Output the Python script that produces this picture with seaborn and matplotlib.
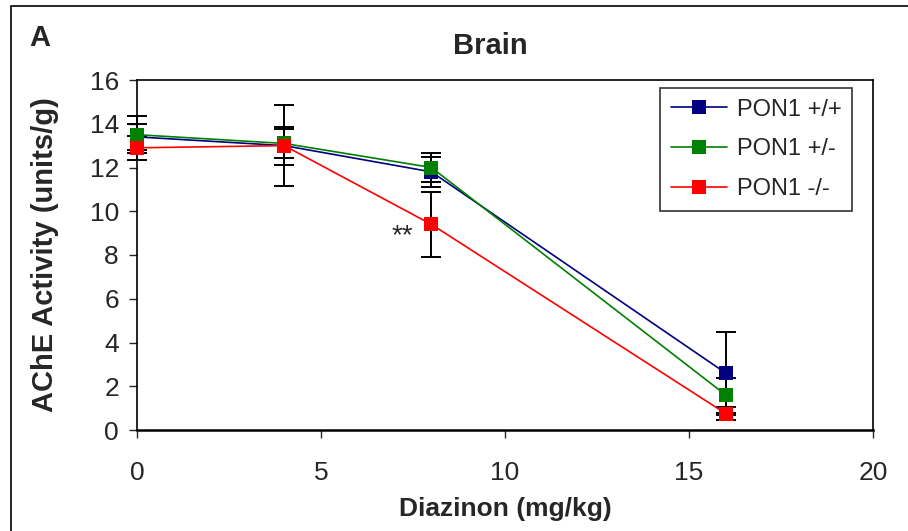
import numpy as np
import pandas as pd
import matplotlib
matplotlib.use('Agg')
import matplotlib.pyplot as plt
import matplotlib.patches as mpatches
from matplotlib.lines import Line2D
import seaborn as sns

sns.set_style('ticks')
plt.rcParams['font.family'] = ['Liberation Sans', 'DejaVu Sans']

# data
dose = [0, 4, 8, 16]
groups = ['PON1 +/+', 'PON1 +/-', 'PON1 -/-']
wt = [13.4, 13.0, 11.8, 2.6]
wt_err = [0.6, 0.87, 0.7, 1.9]
het = [13.5, 13.1, 12.0, 1.6]
het_err = [0.85, 0.65, 0.65, 0.8]
ko = [12.9, 13.0, 9.4, 0.75]
ko_err = [0.55, 1.85, 1.5, 0.3]
colors = ['#000080', '#008000', '#FF0000']

df = pd.DataFrame({
    'dose': dose * 3,
    'ache': wt + het + ko,
    'err': wt_err + het_err + ko_err,
    'group': np.repeat(groups, len(dose)),
})

fig = plt.figure(figsize=(9.08, 5.31), dpi=100)
ax = fig.add_axes([137 / 908, 1 - 430 / 531, 736 / 908, 350 / 531])

# error bars first so the markers sit on top
for g in groups:
    sub = df[df['group'] == g]
    eb = ax.errorbar(sub['dose'], sub['ache'], yerr=sub['err'], fmt='none',
                     ecolor='black', elinewidth=1.4, capsize=7, capthick=1.4, zorder=2)
    for art in eb.lines[1] + eb.lines[2]:
        art.set_clip_on(False)

sns.lineplot(data=df, x='dose', y='ache', hue='group', palette=colors,
             marker='s', markersize=9.5, markeredgewidth=0, linewidth=1.2,
             errorbar=None, legend=False, ax=ax, zorder=3)
for ln in ax.lines:
    ln.set_clip_on(False)

ax.set_xlim(0, 20)
ax.set_ylim(0, 16)
ax.set_xticks([0, 5, 10, 15, 20])
ax.set_yticks(range(0, 17, 2))
ax.tick_params(axis='y', labelsize=19, length=6, width=1, pad=7, direction='out')
ax.tick_params(axis='x', labelsize=19, length=6, width=1, pad=16, direction='out')
for s in ax.spines.values():
    s.set_color('black')
    s.set_linewidth(1.2)
ax.spines['bottom'].set_linewidth(1.8)

ax.set_xlabel('Diazinon (mg/kg)', fontsize=19, fontweight='bold', labelpad=9)
ax.set_ylabel('AChE Activity (units/g)', fontsize=21, fontweight='bold', labelpad=22)
ax.set_title('Brain', fontsize=21, fontweight='bold', pad=19, x=0.48)

ax.text(7.2, 8.85, '**', fontsize=20, ha='center', va='center')
fig.text(29 / 908, 1 - 38 / 531, 'A', fontsize=21, fontweight='bold', va='center')

handles = [Line2D([0], [0], color=c, lw=1.2, marker='s', markersize=9.5,
                  markeredgewidth=0) for c in colors]
leg = ax.legend(handles, groups, loc='upper right', bbox_to_anchor=(0.9715, 0.977),
                borderaxespad=0, fontsize=17, frameon=True, fancybox=False,
                handlelength=2.4, labelspacing=0.75, borderpad=0.45, handletextpad=0.4)
leg.get_frame().set_edgecolor('black')
leg.get_frame().set_linewidth(1.2)

# outer panel frame
fig.patches.append(mpatches.Rectangle((11 / 908, -0.05), 1.2, 1.05 - 6 / 531,
                                      transform=fig.transFigure, fill=False,
                                      edgecolor='black', lw=1.2))

fig.savefig('out.png', dpi=100)
